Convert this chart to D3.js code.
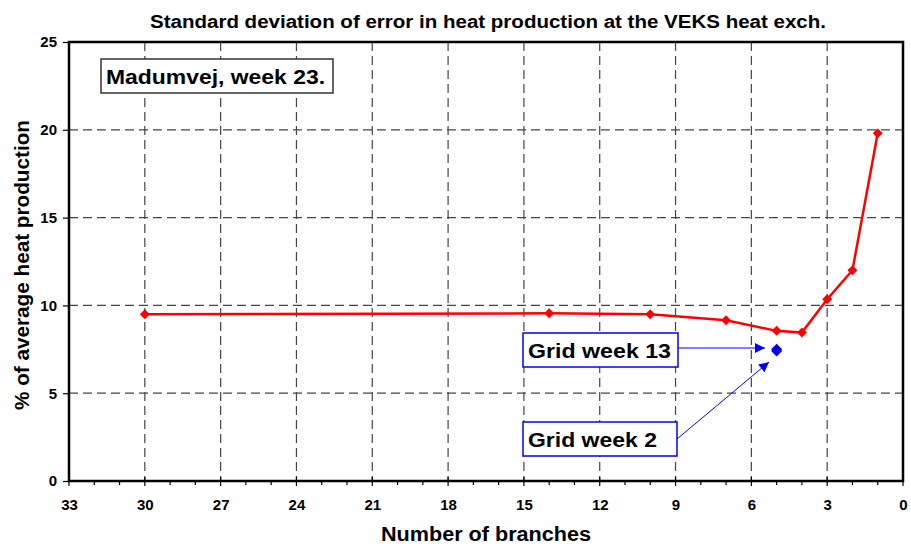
<!DOCTYPE html>
<html><head><meta charset="utf-8">
<script src="https://cdn.jsdelivr.net/npm/d3@7"></script>
<style>body{margin:0;background:#fff}svg{display:block}text{font-family:"Liberation Sans",Arial,sans-serif;font-weight:bold}</style>
</head><body><svg id="c" width="911" height="548"></svg>
<script>
const branches = [30, 14, 10, 7, 5, 4, 3, 2, 1];
const stdPct = [9.5, 9.55, 9.5, 9.15, 8.55, 8.45, 10.35, 12.0, 19.8];
const gridBranches = [5, 5];
const gridPct = [7.5, 7.4];
const xTicks = [33, 30, 27, 24, 21, 18, 15, 12, 9, 6, 3, 0];
const yTicks = [0, 5, 10, 15, 20, 25];

const svg = d3.select("#c");
const L = 69, R = 903, T = 42, B = 481;
const x = d3.scaleLinear().domain([33, 0]).range([L, R]);
const y = d3.scaleLinear().domain([0, 25]).range([B, T]);

// title
svg.append("text").attr("x", 488).attr("y", 28).attr("text-anchor", "middle")
  .attr("font-size", 18).attr("textLength", 676).attr("lengthAdjust", "spacingAndGlyphs")
  .text("Standard deviation of error in heat production at the VEKS heat exch.");

// gridlines
const g = svg.append("g");
g.selectAll("line.hg").data(yTicks.filter(d => d > 0 && d < 25)).join("line")
  .attr("x1", L).attr("x2", R).attr("y1", d => y(d)).attr("y2", d => y(d))
  .attr("stroke", "#444").attr("stroke-width", 1.2).attr("stroke-dasharray", "9,5");
g.selectAll("line.vg").data(xTicks.filter(d => d > 0 && d < 33)).join("line")
  .attr("y1", T).attr("y2", B).attr("x1", d => x(d)).attr("x2", d => x(d))
  .attr("stroke", "#444").attr("stroke-width", 1.2).attr("stroke-dasharray", "9,5");

// axes
const xAxis = d3.axisBottom(x).tickValues(xTicks).tickSize(0).tickPadding(18);
const xa = svg.append("g").attr("transform", `translate(0,${B})`).call(xAxis);
xa.select(".domain").remove();
xa.selectAll("text").attr("font-size", 15).attr("font-family", "Liberation Sans, Arial").attr("font-weight", "bold").attr("fill", "#000");
const mt = d3.range(0, 34);
svg.append("g").selectAll("line").data(mt).join("line")
  .attr("x1", d => x(d)).attr("x2", d => x(d))
  .attr("y1", d => d % 3 === 0 ? B - 4 : B).attr("y2", d => d % 3 === 0 ? B + 5 : B + 4)
  .attr("stroke", "#000").attr("stroke-width", 1.2);

const yAxis = d3.axisLeft(y).tickValues(yTicks).tickSize(6).tickPadding(6);
const ya = svg.append("g").attr("transform", `translate(${L},0)`).call(yAxis);
ya.select(".domain").remove();
ya.selectAll("line").attr("stroke-width", 1.2);
ya.selectAll("text").attr("font-size", 15).attr("font-family", "Liberation Sans, Arial").attr("font-weight", "bold").attr("fill", "#000");

// frame
svg.append("rect").attr("x", L).attr("y", T).attr("width", R - L).attr("height", B - T)
  .attr("fill", "none").attr("stroke", "#000").attr("stroke-width", 2.5);

// axis labels
svg.append("text").attr("x", 486).attr("y", 541).attr("text-anchor", "middle")
  .attr("font-size", 20).attr("textLength", 210).attr("lengthAdjust", "spacingAndGlyphs")
  .text("Number of branches");
svg.append("text").attr("transform", "translate(29,265) rotate(-90)").attr("text-anchor", "middle")
  .attr("font-size", 20).attr("textLength", 290).attr("lengthAdjust", "spacingAndGlyphs")
  .text("% of average heat production");

// diamond path
const diamond = (w, h) => `M0,${-h}L${w},0L0,${h}L${-w},0Z`;

// red line
const pts = branches.map((b, i) => [b, stdPct[i]]);
svg.append("path").datum(pts)
  .attr("d", d3.line().x(d => x(d[0])).y(d => y(d[1])))
  .attr("fill", "none").attr("stroke", "#ff0000").attr("stroke-width", 2.5);
svg.append("g").selectAll("path").data(pts).join("path")
  .attr("transform", d => `translate(${x(d[0])},${y(d[1])})`)
  .attr("d", diamond(5, 5)).attr("fill", "#ff0000");

// blue points
const gp = gridBranches.map((b, i) => [b, gridPct[i]]);
svg.append("g").selectAll("path").data(gp).join("path")
  .attr("transform", d => `translate(${x(d[0])},${y(d[1])})`)
  .attr("d", diamond(5.5, 5.5)).attr("fill", "#0000ff");

// annotation boxes
function box(x0, y0, w, h, stroke, txt, fs, tl) {
  svg.append("rect").attr("x", x0).attr("y", y0).attr("width", w).attr("height", h)
    .attr("fill", "#fff").attr("stroke", stroke).attr("stroke-width", 1.5);
  svg.append("text").attr("x", x0 + 5).attr("y", y0 + h / 2 + 7.5).attr("font-size", fs)
    .attr("textLength", tl).attr("lengthAdjust", "spacingAndGlyphs").text(txt);
}
box(101, 59, 232, 34, "#333", "Madumvej, week 23.", 21, 219);
box(523, 333, 155, 34, "#0000ff", "Grid week 13", 21, 143);
box(523, 422, 154, 34, "#0000ff", "Grid week 2", 21, 129);

// arrows
const defs = svg.append("defs");
defs.append("marker").attr("id", "ah").attr("viewBox", "0 0 10 10").attr("refX", 10).attr("refY", 5)
  .attr("markerWidth", 11).attr("markerHeight", 10).attr("markerUnits", "userSpaceOnUse").attr("orient", "auto")
  .append("path").attr("d", "M0,0L10,5L0,10Z").attr("fill", "#0000ff");
svg.append("line").attr("x1", 678).attr("y1", 348).attr("x2", 765).attr("y2", 348)
  .attr("stroke", "#0000ff").attr("stroke-width", 1).attr("marker-end", "url(#ah)");
svg.append("line").attr("x1", 677).attr("y1", 439).attr("x2", 769).attr("y2", 362)
  .attr("stroke", "#0000ff").attr("stroke-width", 1).attr("marker-end", "url(#ah)");
</script></body></html>
